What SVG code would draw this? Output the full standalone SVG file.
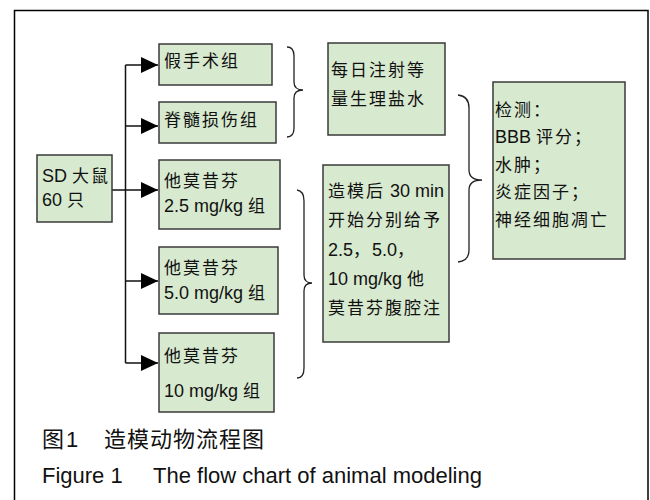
<svg xmlns="http://www.w3.org/2000/svg" width="650" height="500" viewBox="0 0 650 500">
<defs>
<style>
.box{fill:#d7e9cf;stroke:#3a3a3a;stroke-width:1.5}
.t{font-family:"Liberation Sans","Noto Sans CJK SC",sans-serif;font-size:18px;fill:#111}
.c{letter-spacing:2px;font-size:17px}
.cap{font-family:"Liberation Sans","Noto Sans CJK SC",sans-serif;font-size:22px;fill:#111}
.ln{fill:none;stroke:#111;stroke-width:1.5}
.br{fill:none;stroke:#222;stroke-width:1.3}
</style>
<marker id="ah" markerWidth="17" markerHeight="16" refX="17" refY="8" orient="auto" markerUnits="userSpaceOnUse">
<path d="M0,0 L17,8 L0,16 Z" fill="#000"/>
</marker>
</defs>
<rect width="650" height="500" fill="#fff"/>
<path d="M14.5,505 V10.5 H648 V505" fill="none" stroke="#000" stroke-width="1.5"/>

<g id="connectors">
<path class="ln" d="M125.5,65 V363"/>
<path class="ln" d="M125.5,65 H158" marker-end="url(#ah)"/>
<path class="ln" d="M125.5,126 H158" marker-end="url(#ah)"/>
<path class="ln" d="M112,190 H158" marker-end="url(#ah)"/>
<path class="ln" d="M125.5,281 H158" marker-end="url(#ah)"/>
<path class="ln" d="M125.5,363 H158" marker-end="url(#ah)"/>
<path class="br" d="M287,47 Q294,47 294,56 L294,82 Q294,90 303,90 Q294,90 294,98 L294,128 Q294,137 287,137"/>
<path class="br" d="M297,190 Q304,191 304,201 L304,275 Q304,283 312,283 Q304,283 304,291 L304,368 Q304,378 297,378"/>
<path class="br" d="M458,95 Q469,96 469,108 L469,170 Q469,180 482,180 Q469,180 469,190 L469,250 Q469,261 458,262"/>
</g>

<g id="n_sd">
<rect class="box" x="37" y="155" width="75" height="67"/>
<text class="t" x="42" y="182">SD <tspan class="c">大鼠</tspan></text>
<text class="t" x="42" y="206">60 <tspan class="c">只</tspan></text>
</g>
<g id="n_sham">
<rect class="box" x="159" y="44" width="113" height="41"/>
<text class="t c" x="164" y="67">假手术组</text>
</g>
<g id="n_sci">
<rect class="box" x="159" y="102" width="117" height="41"/>
<text class="t c" x="164" y="126">脊髓损伤组</text>
</g>
<g id="n_t25">
<rect class="box" x="159" y="160" width="121" height="69"/>
<text class="t c" x="164" y="187">他莫昔芬</text>
<text class="t" x="164" y="212">2.5 mg/kg <tspan class="c">组</tspan></text>
</g>
<g id="n_t50">
<rect class="box" x="159" y="247" width="119" height="67"/>
<text class="t c" x="164" y="274">他莫昔芬</text>
<text class="t" x="164" y="299">5.0 mg/kg <tspan class="c">组</tspan></text>
</g>
<g id="n_t10">
<rect class="box" x="159" y="333" width="115" height="79"/>
<text class="t c" x="164" y="362">他莫昔芬</text>
<text class="t" x="164" y="397">10 mg/kg <tspan class="c">组</tspan></text>
</g>
<g id="n_saline">
<rect class="box" x="328" y="43" width="117" height="92"/>
<text class="t c" x="331" y="76">每日注射等</text>
<text class="t c" x="331" y="105">量生理盐水</text>
</g>
<g id="n_drug">
<rect class="box" x="323" y="165" width="126" height="177"/>
<text class="t" x="328" y="197"><tspan class="c">造模后</tspan> 30 min</text>
<text class="t c" x="328" y="226">开始分别给予</text>
<text class="t" x="328" y="256">2.5<tspan class="c">，</tspan>5.0<tspan class="c">，</tspan></text>
<text class="t" x="328" y="285">10 mg/kg <tspan class="c">他</tspan></text>
<text class="t c" x="328" y="314">莫昔芬腹腔注</text>
</g>
<g id="n_detect">
<rect class="box" x="493" y="82" width="132" height="177"/>
<text class="t c" x="495" y="116">检测：</text>
<text class="t" x="495" y="143">BBB <tspan class="c">评分；</tspan></text>
<text class="t c" x="495" y="171">水肿；</text>
<text class="t c" x="495" y="198">炎症因子；</text>
<text class="t c" x="495" y="226">神经细胞凋亡</text>
</g>

<g id="caption">
<text class="cap" x="42" y="447">图</text>
<text class="cap" x="66" y="447">1</text>
<text class="cap" x="104" y="447" letter-spacing="1">造模动物流程图</text>
<text class="cap" x="42" y="483">Figure 1</text>
<text class="cap" x="153" y="483">The flow chart of animal modeling</text>
</g>
</svg>
